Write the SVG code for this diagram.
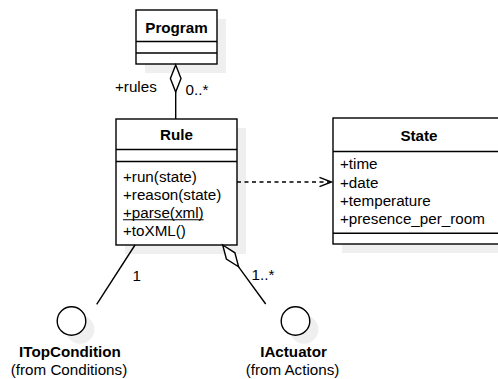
<svg xmlns="http://www.w3.org/2000/svg" width="498" height="379" viewBox="0 0 498 379">
  <style>
    .box { fill: #ffffff; stroke: #000000; stroke-width: 1.4; }
    .shadow { fill: #efefef; stroke: none; }
    .sep { stroke: #000000; stroke-width: 1.4; fill: none; }
    .edge { stroke: #000000; stroke-width: 1.4; fill: none; }
    .dep { stroke: #000000; stroke-width: 1.4; fill: none; stroke-dasharray: 4 3.5; }
    .diamond { fill: #ffffff; stroke: #000000; stroke-width: 1.4; }
    .uline { stroke: #000000; stroke-width: 1.1; }
    text { font-family: "Liberation Sans", Arial, sans-serif; font-size: 15.2px; fill: #000000; }
    .title { font-weight: bold; text-anchor: middle; }
    .mid { text-anchor: middle; }
  </style>

  <!-- Program class -->
  <g id="program">
    <rect class="shadow" x="145" y="19" width="81" height="54"/>
    <rect class="box" x="136" y="10" width="81" height="54"/>
    <line class="sep" x1="136" y1="41.5" x2="217" y2="41.5"/>
    <line class="sep" x1="136" y1="53" x2="217" y2="53"/>
    <text class="title" x="176.5" y="32.5">Program</text>
  </g>

  <!-- Rule class -->
  <g id="rule">
    <rect class="shadow" x="125" y="128" width="121" height="126"/>
    <rect class="box" x="116" y="119" width="121" height="126"/>
    <line class="sep" x1="116" y1="149.5" x2="237" y2="149.5"/>
    <line class="sep" x1="116" y1="161.5" x2="237" y2="161.5"/>
    <text class="title" x="176.5" y="140">Rule</text>
    <text x="123" y="181.5">+run(state)</text>
    <text x="123" y="199.8">+reason(state)</text>
    <!-- static operation: underlined -->
    <text x="123" y="217.5">+parse(xml)</text>
    <line class="uline" x1="123" y1="219.8" x2="203.6" y2="219.8"/>
    <text x="123" y="235.8">+toXML()</text>
  </g>

  <!-- State class (runs past the right edge) -->
  <g id="state">
    <rect class="shadow" x="342" y="127" width="172" height="126"/>
    <rect class="box" x="333" y="118" width="172" height="126"/>
    <line class="sep" x1="333" y1="151.5" x2="505" y2="151.5"/>
    <line class="sep" x1="333" y1="233.3" x2="505" y2="233.3"/>
    <text class="title" x="419" y="141">State</text>
    <text x="340" y="169">+time</text>
    <text x="340" y="187.5">+date</text>
    <text x="340" y="205.8">+temperature</text>
    <text x="340" y="224">+presence_per_room</text>
  </g>

  <!-- ITopCondition interface -->
  <g id="itopcondition">
    <circle class="shadow" cx="80" cy="329.5" r="14.3"/>
    <circle class="box" cx="71.5" cy="321" r="14.3"/>
    <text class="title" x="70" y="356.5">ITopCondition</text>
    <text class="mid" x="69" y="374.5">(from Conditions)</text>
  </g>

  <!-- IActuator interface -->
  <g id="iactuator">
    <circle class="shadow" cx="304" cy="329.5" r="14.3"/>
    <circle class="box" cx="295.5" cy="321" r="14.3"/>
    <text class="title" x="293.5" y="356.5">IActuator</text>
    <text class="mid" x="292.5" y="374.5">(from Actions)</text>
  </g>

  <!-- Connectors -->
  <g id="connectors">
    <!-- Program <>- Rule -->
    <line class="edge" x1="175.7" y1="92" x2="175.7" y2="119"/>
    <polygon class="diamond" points="175.7,65 181,78.5 175.7,92 170.4,78.5"/>
    <text x="115" y="91.5">+rules</text>
    <text x="185.5" y="95">0..*</text>

    <!-- Rule - - -> State -->
    <line class="dep" x1="237" y1="182" x2="331.5" y2="182"/>
    <polyline class="edge" points="319.5,177.3 331.5,182 319.5,186.7"/>

    <!-- Rule - ITopCondition -->
    <line class="edge" x1="135" y1="245" x2="96.7" y2="304.3"/>
    <text x="132.5" y="280.5">1</text>

    <!-- Rule <>- IActuator -->
    <line class="edge" x1="238.6" y1="266.8" x2="265.7" y2="304"/>
    <polygon class="diamond" points="222.7,245 234.9,252.8 238.6,266.8 226.4,259"/>
    <text x="251.5" y="280">1..*</text>
  </g>
</svg>
